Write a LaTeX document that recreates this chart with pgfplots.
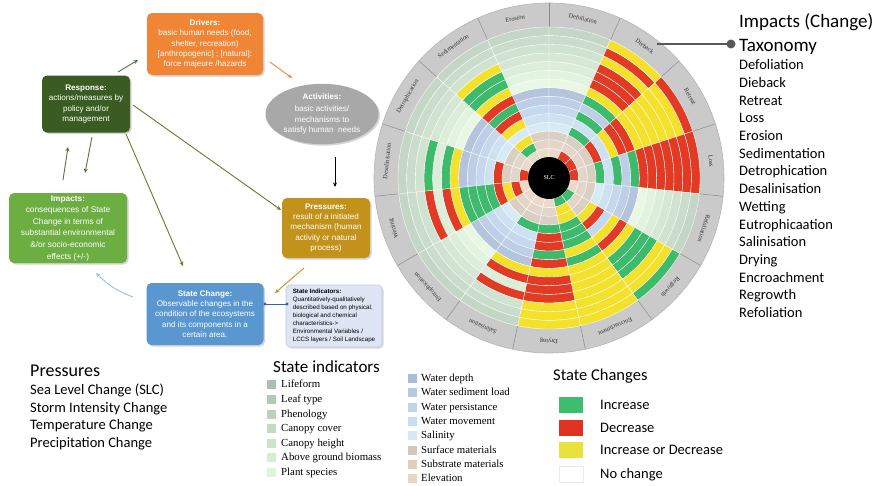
\documentclass[border=0pt]{standalone}
\usepackage{pgfplots}
\pgfplotsset{compat=1.18}
\usepackage{pgfplotstable}
\usepackage{fontspec}
\setmainfont{Carlito}
\newfontfamily\serifff{Liberation Serif}
\newfontfamily\boxff{Liberation Sans}
\usetikzlibrary{shadows,arrows.meta,shapes.geometric}

% ring base tints (1 = elevation ... 15 = lifeform)
\definecolor{base1}{HTML}{EBDACA}
\definecolor{base2}{HTML}{E3D6C9}
\definecolor{base3}{HTML}{DBCEC2}
\definecolor{base4}{HTML}{D7EBF7}
\definecolor{base5}{HTML}{CDE1F3}
\definecolor{base6}{HTML}{C5D8EE}
\definecolor{base7}{HTML}{BDCEE6}
\definecolor{base8}{HTML}{B4C4DD}
\definecolor{base9}{HTML}{E8F8E4}
\definecolor{base10}{HTML}{E2F3DF}
\definecolor{base11}{HTML}{DCEEDA}
\definecolor{base12}{HTML}{D6E8D5}
\definecolor{base13}{HTML}{D0E2D0}
\definecolor{base14}{HTML}{CADCCB}
\definecolor{base15}{HTML}{C4D6C6}
\definecolor{cinc}{HTML}{3DBA6B}
\definecolor{cdec}{HTML}{E13B26}
\definecolor{cboth}{HTML}{F4E12B}
\definecolor{bandgray}{HTML}{CACACA}
\definecolor{bandedge}{HTML}{B5B5B5}
\definecolor{sline}{HTML}{8C8C8C}
% legend tints
\definecolor{lg1}{HTML}{A8C2AD}
\definecolor{lg2}{HTML}{B2CAB5}
\definecolor{lg3}{HTML}{BAD2BC}
\definecolor{lg4}{HTML}{C3DBC3}
\definecolor{lg5}{HTML}{CBE4CB}
\definecolor{lg6}{HTML}{D5EDD2}
\definecolor{lg7}{HTML}{DFF5DA}
\definecolor{lb1}{HTML}{A9BCD8}
\definecolor{lb2}{HTML}{B5C9E3}
\definecolor{lb3}{HTML}{BFD5EC}
\definecolor{lb4}{HTML}{C8DFF2}
\definecolor{lb5}{HTML}{D4EAF7}
\definecolor{le1}{HTML}{D5C8BB}
\definecolor{le2}{HTML}{E0CFBF}
\definecolor{le3}{HTML}{ECD6C0}
% diagram colours
\definecolor{drivers}{HTML}{EF8535}
\definecolor{activ}{HTML}{A8A8A8}
\definecolor{resp}{HTML}{3A5C22}
\definecolor{press}{HTML}{C3921A}
\definecolor{impact}{HTML}{6DAE42}
\definecolor{statec}{HTML}{5A97D0}
\definecolor{stind}{HTML}{DEE6F5}
\definecolor{stindb}{HTML}{BCC8E2}
\definecolor{arrgreen}{HTML}{4A7A3A}
\definecolor{arrolive}{HTML}{6B7A2A}
\definecolor{arrblue}{HTML}{8CC3E6}
\definecolor{connblue}{HTML}{3060B8}
\definecolor{leggreen}{HTML}{3DBD6E}
\definecolor{legred}{HTML}{E03220}
\definecolor{legyel}{HTML}{E8E23A}

% state change per ring (rows, 1 = Elevation ... 15 = Lifeform; r = ring mid radius)
% and sector (columns): 0 = no change, 1 = increase, 2 = decrease, 3 = increase or decrease
\pgfplotstableread{
k  r       Ero Def Die Ret Los Ref Reg Enc Dry Sal Eut Wet Des Det Sed
1  25.335  0   0   2   2   2   0   1   1   0   0   0   0   2   0   0
2  34.005  0   0   0   0   0   0   0   3   0   0   0   2   0   0   1
3  42.675  0   0   0   0   0   0   0   3   0   0   0   3   0   0   3
4  51.345  0   0   1   2   1   0   3   1   1   1   0   2   2   0   0
5  60.015  0   0   0   0   0   0   2   1   2   0   0   1   0   0   3
6  68.685  0   0   1   3   1   0   0   1   2   0   0   1   0   0   2
7  77.355  0   0   0   2   0   0   3   3   1   0   0   1   0   0   1
8  86.025  0   0   1   2   1   0   2   1   2   0   0   1   0   0   2
9  94.695  0   0   3   3   2   0   3   3   3   3   0   3   3   0   3
10 103.365 0   0   2   3   2   0   1   3   2   2   0   2   1   0   1
11 112.035 0   0   2   3   2   0   1   3   2   0   0   0   0   0   1
12 120.705 0   0   2   3   2   0   1   3   2   2   0   2   1   0   3
13 129.375 0   0   3   3   2   0   3   3   3   0   0   0   0   0   0
14 138.045 0   0   2   3   2   0   3   3   3   0   0   0   0   0   0
15 146.715 0   0   3   2   2   0   1   3   3   0   0   0   0   0   0
}\wheeltable

\pgfdeclareplotmark{blank}{}
\newcount\wrkc
\newcommand\drawwheelcell[1]{%
  \global\advance\wrkc by 1\relax
  \edef\wrk{\the\wrkc}%
  \edef\wcc{\pgfplotspointmeta}%
  \pgfmathsetmacro\cri{21+8.67*(\wrk-1)}%
  \pgfmathsetmacro\cro{\cri+8.67}%
  \pgfmathsetmacro\crm{\cri+4.335}%
  \pgfmathsetmacro\caa{#1-12}%
  \pgfmathsetmacro\cab{#1+12}%
  \pgftransformshift{\pgfpointpolar{#1}{-\crm pt}}%
  \ifcase\wcc\relax\pgfsetfillcolor{base\wrk}\or\pgfsetfillcolor{cinc}\or\pgfsetfillcolor{cdec}\or\pgfsetfillcolor{cboth}\fi
  \pgfsetstrokecolor{white}\pgfsetlinewidth{0.35pt}%
  \pgfpathmoveto{\pgfpointpolar{\caa}{\cri pt}}%
  \pgfpatharc{\caa}{\cab}{\cri pt}%
  \pgfpathlineto{\pgfpointpolar{\cab}{\cro pt}}%
  \pgfpatharc{\cab}{\caa}{\cro pt}%
  \pgfpathclose
  \pgfusepath{fill,stroke}%
}
\pgfplotsset{wheelcell/.style={scatter, only marks, mark=blank, data cs=polar,
  point meta=explicit symbolic, forget plot,
  execute at begin plot visualization={\global\wrkc=0\relax},
  scatter/@post marker code/.code={\endpgfscope}}}
\newcommand\wheelsector[2]{\addplot[wheelcell,
  scatter/@pre marker code/.code={\pgfscope\drawwheelcell{#2}}]
  table[x expr=#2, y=r, meta=#1]{\wheeltable};}
\newcommand\sline[1]{\addplot[draw=sline, line width=0.5pt, data cs=polar, forget plot, mark=none] coordinates {(#1,21) (#1,175)};}

\tikzset{
  dbox/.style={rounded corners=5pt, inner sep=1pt, align=center, text=white,
    font=\boxff\fontsize{8.1}{10.4}\selectfont,
    drop shadow={shadow xshift=1.5pt, shadow yshift=-1.5pt, opacity=0.35}},
  arr/.style={-{Stealth[length=4.5pt,width=4pt]}, line width=0.9pt},
  lab/.style={anchor=base west, inner sep=0pt}
}

\begin{document}
\begin{tikzpicture}[x=1pt,y=-1pt]
\useasboundingbox (0,0) rectangle (881,485);
% ---------------- wheel ----------------
\fill[bandgray] (549,178) circle (175pt);
\draw[bandedge, line width=0.6pt] (549,178) circle (175pt);
\begin{axis}[at={(549pt,-178pt)}, anchor=origin, width=350pt, height=350pt,
  scale only axis, xmin=-175, xmax=175, ymin=-175, ymax=175, hide axis, clip=false]
\wheelsector{Ero}{102}
\wheelsector{Def}{78}
\wheelsector{Die}{54}
\wheelsector{Ret}{30}
\wheelsector{Los}{6}
\wheelsector{Ref}{-18}
\wheelsector{Reg}{-42}
\wheelsector{Enc}{-66}
\wheelsector{Dry}{-90}
\wheelsector{Sal}{-114}
\wheelsector{Eut}{-138}
\wheelsector{Wet}{-162}
\wheelsector{Des}{174}
\wheelsector{Det}{150}
\wheelsector{Sed}{126}
\sline{90}\sline{66}\sline{42}\sline{18}\sline{-6}\sline{-30}\sline{-54}\sline{-78}
\sline{-102}\sline{-126}\sline{-150}\sline{-174}\sline{162}\sline{138}\sline{114}
\end{axis}
\fill[black] (549,178) circle (21pt);
\node[text=white, font=\serifff\fontsize{6}{7}\selectfont] at (549,178) {SLC};
\foreach \nm/\an in {Erosion/102, Defoliation/78, Dieback/54, Retreat/30, Loss/6,
  Refoliation/-18, Regrowth/-42, Encroachment/-66, Drying/-90, Salinisation/-114,
  Eutrophication/-138, Wetting/-162, Desalinisation/174, Detrophication/150, Sedimentation/126}{
  \pgfmathsetmacro\rot{\an-90}
  \node[rotate=\rot, text=black!80, inner sep=0pt, font=\serifff\fontsize{6.3}{7}\selectfont]
    at ([shift={(\an:163pt)}]549,178) {\nm};
}
% ---------------- taxonomy list ----------------
\draw[line width=1.6pt, color=black!65] (657,44) -- (728,44);
\fill[black!65] (731,44) circle (4.5pt);
\node[lab, font=\fontsize{19}{22}\selectfont] at (739,27) {Impacts (Change)};
\node[lab, font=\fontsize{19}{22}\selectfont] at (739,51) {Taxonomy};
\foreach \t [count=\i from 0] in {Defoliation, Dieback, Retreat, Loss, Erosion, Sedimentation,
  Detrophication, Desalinisation, Wetting, Eutrophicaation, Salinisation, Drying,
  Encroachment, Regrowth, Refoliation}{
  \node[lab, font=\fontsize{14.5}{17}\selectfont] at (739,{69.7+17.71*\i}) {\t};
}
% ---------------- DPSIR diagram ----------------
\node[dbox, fill=drivers, minimum width=116pt, minimum height=62pt] at (205,44)
  {\textbf{Drivers:}\\basic human needs (food,\\shelter, recreation)\\{}[anthropogenic] ; [natural]:\\force majeure /hazards};
\node[dbox, ellipse, fill=activ, minimum width=113pt, minimum height=48pt] at (322,114)
  {\textbf{Activities:}\\[2pt]basic activities/\\mechanisms to\\satisfy human\ \ needs};
\node[dbox, fill=resp, minimum width=88pt, minimum height=57pt] at (86,104)
  {\textbf{Response:}\\actions/measures by\\policy and/or\\management};
\node[dbox, fill=press, minimum width=88pt, minimum height=60pt] at (326,228)
  {\textbf{Pressures:}\\result of a initiated\\mechanism (human\\activity or natural\\process)};
\node[dbox, fill=impact, minimum width=118pt, minimum height=70pt, font=\boxff\fontsize{8.3}{11.6}\selectfont] at (68,228)
  {\textbf{Impacts:}\\consequences of State\\Change in terms of\\substantial environmental\\\&/or socio-economic\\effects (+/-)};
\node[dbox, fill=statec, minimum width=117pt, minimum height=62pt] at (205,314)
  {\textbf{State Change:}\\Observable changes in the\\condition of the ecosystems\\and its components in a\\certain area.};
\node[rounded corners=4pt, fill=stind, draw=stindb, line width=0.6pt, minimum width=96pt, minimum height=62pt,
  align=left, inner sep=3pt, font=\boxff\fontsize{6.2}{7.9}\selectfont,
  drop shadow={shadow xshift=1.5pt, shadow yshift=-1.5pt, opacity=0.3}] at (334,316)
  {\textbf{State Indicators:}\\Quantitatively-qualitatively\\described based on physical,\\biological and chemical\\characteristics->\\Environmental Variables /\\LCCS layers / Soil Landscape};
\draw[color=connblue, line width=0.8pt] (265,304) -- (287,304);
\fill[connblue] (265,304) circle (1.6pt);
\fill[connblue] (287,304) circle (1.6pt);
% arrows
\draw[arr, color=arrgreen] (118,72) -- (138,60);
\draw[arr, color=drivers] (270,62) -- (292,78);
\draw[arr, color=black] (335,157) -- (335,187);
\draw[arr, color=press] (304,268) -- (275,293);
\draw[arr, color=arrblue] (133,297) to[bend left=12] (96,273);
\draw[arr, color=arrgreen] (63,180) -- (68,147);
\draw[arr, color=arrgreen] (92,137) -- (85,173);
\draw[arr, color=arrolive] (133,105) -- (281,210);
\draw[arr, color=arrolive] (126,134) -- (183,266);
% ---------------- Pressures legend ----------------
\node[lab, font=\fontsize{18}{21}\selectfont] at (30,376) {Pressures};
\foreach \t [count=\i from 0] in {Sea Level Change (SLC), Storm Intensity Change, Temperature Change, Precipitation Change}{
  \node[lab, font=\fontsize{14.5}{17}\selectfont] at (30,{394.7+17.6*\i}) {\t};
}
% ---------------- State indicators legend ----------------
\node[lab, font=\fontsize{17}{20}\selectfont] at (273,372.5) {State indicators};
\foreach \c/\t/\y in {lg1/Lifeform/384, lg2/Leaf type/399, lg3/Phenology/414, lg4/Canopy cover/428,
  lg5/Canopy height/443, lg6/Above ground biomass/457, lg7/Plant species/472}{
  \fill[\c] (267,\y-4.5) rectangle (276,\y+4.5);
  \node[lab, font=\serifff\fontsize{10.8}{12}\selectfont] at (281,\y+3.6) {\t};
}
\foreach \c/\t/\y in {lb1/Water depth/378, lb2/Water sediment load/392, lb3/Water persistance/407,
  lb4/Water movement/421, lb5/Salinity/435, le1/Surface materials/450, le2/Substrate materials/464,
  le3/Elevation/478}{
  \fill[\c] (408,\y-4.5) rectangle (417,\y+4.5);
  \node[lab, font=\serifff\fontsize{10.8}{12}\selectfont] at (421,\y+3.6) {\t};
}
% ---------------- State changes legend ----------------
\node[lab, font=\fontsize{16.5}{19}\selectfont] at (553,380.5) {State Changes};
\foreach \c/\t/\y in {leggreen/Increase/405, legred/Decrease/428, legyel/Increase or Decrease/450}{
  \fill[\c] (559,\y-8) rectangle (583,\y+8);
  \node[lab, font=\fontsize{14.5}{17}\selectfont] at (600,\y+4.7) {\t};
}
\draw[black!8, line width=0.6pt] (559,466) rectangle (583,482);
\node[lab, font=\fontsize{14.5}{17}\selectfont] at (600,478.7) {No change};
\end{tikzpicture}
\end{document}
